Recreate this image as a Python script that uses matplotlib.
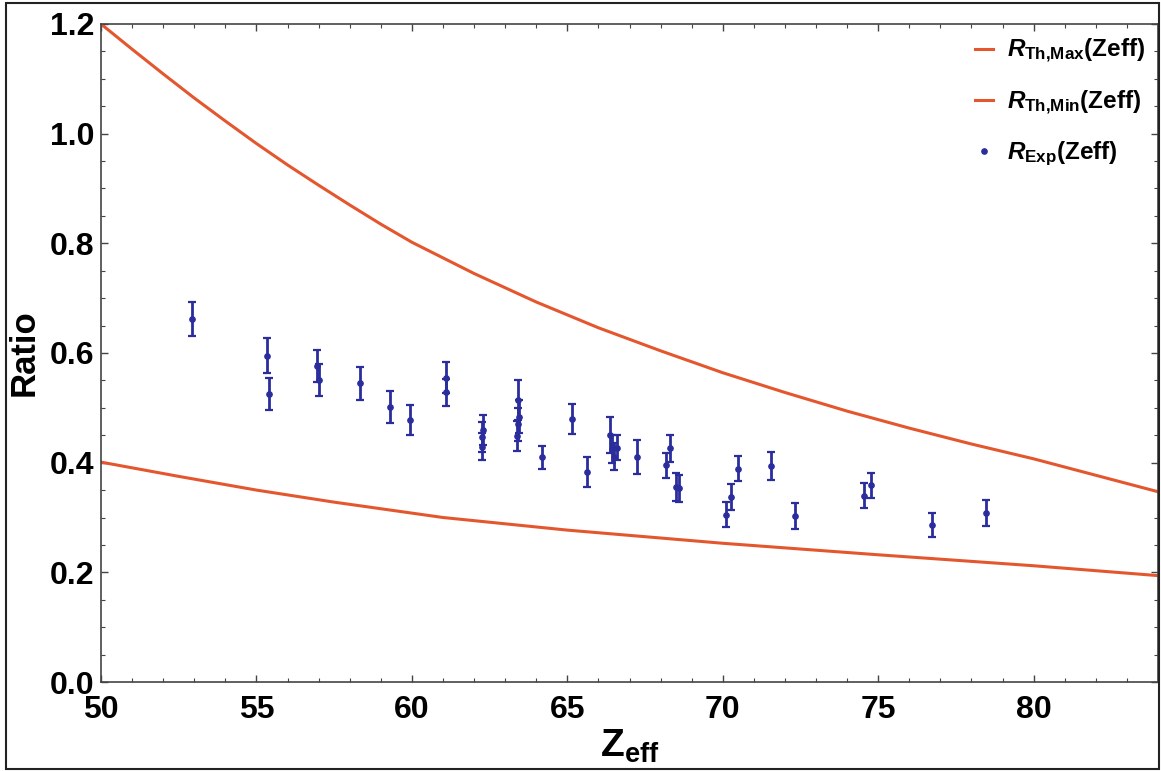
import matplotlib
matplotlib.use("Agg")
import matplotlib.pyplot as plt
from matplotlib.ticker import MultipleLocator
from matplotlib.patches import Rectangle
from matplotlib.lines import Line2D

plt.rcParams['font.family'] = ['Liberation Sans', 'DejaVu Sans']
plt.rcParams['mathtext.fontset'] = 'custom'
plt.rcParams['mathtext.it'] = 'Liberation Sans:italic:bold'
plt.rcParams['mathtext.bf'] = 'Liberation Sans:bold'
plt.rcParams['mathtext.rm'] = 'Liberation Sans:bold'

# theoretical curves
z_max = [50, 51, 52, 53, 54, 55, 56, 57, 58, 59, 60,
         62, 64, 66, 68, 70, 72, 74, 76, 78, 80, 82, 84]
r_max = [1.200, 1.154, 1.109, 1.065, 1.023, 0.982, 0.943, 0.906, 0.870, 0.835, 0.802,
         0.745, 0.693, 0.646, 0.604, 0.564, 0.528, 0.494, 0.463, 0.434, 0.407, 0.377, 0.347]
z_min = [50, 52.5, 55, 57.5, 60, 61, 65, 70, 75, 80, 84]
r_min = [0.401, 0.375, 0.350, 0.328, 0.308, 0.300, 0.277, 0.253, 0.232, 0.212, 0.194]

# experimental ratios
z_exp = [52.94, 55.33, 55.42, 56.96, 57.01, 58.32, 59.31, 59.95, 61.10, 61.10,
         62.29, 62.24, 62.26, 63.41, 63.44, 63.40, 63.38, 64.19, 65.14, 65.63,
         66.38, 66.45, 66.50, 66.60, 67.24, 68.17, 68.31, 68.48, 68.59, 70.10,
         70.28, 70.48, 71.54, 72.32, 74.53, 74.76, 76.74, 78.48]
r_exp = [0.662, 0.595, 0.525, 0.576, 0.551, 0.545, 0.501, 0.478, 0.555, 0.528,
         0.460, 0.447, 0.429, 0.514, 0.484, 0.470, 0.449, 0.410, 0.480, 0.383,
         0.450, 0.425, 0.411, 0.427, 0.410, 0.395, 0.426, 0.356, 0.353, 0.305,
         0.337, 0.389, 0.394, 0.303, 0.340, 0.359, 0.286, 0.308]
r_err = [0.031, 0.032, 0.029, 0.029, 0.029, 0.030, 0.029, 0.027, 0.028, 0.025,
         0.027, 0.027, 0.025, 0.037, 0.030, 0.030, 0.027, 0.021, 0.027, 0.027,
         0.033, 0.025, 0.024, 0.023, 0.031, 0.023, 0.024, 0.026, 0.025, 0.023,
         0.024, 0.023, 0.025, 0.024, 0.023, 0.023, 0.022, 0.024]

fig = plt.figure(figsize=(11.61, 7.71), dpi=100)
ax = fig.add_axes([101 / 1161, 89 / 771, 1057 / 1161, 658 / 771])

orange = '#e4572e'
navy = '#2b2d9c'

l1, = ax.plot(z_max, r_max, color=orange, lw=2.2)
l2, = ax.plot(z_min, r_min, color=orange, lw=2.2)
ax.errorbar(z_exp, r_exp, yerr=r_err, fmt='o', color=navy, ms=3.8,
            elinewidth=2.0, capsize=3, capthick=1.6)
dot = Line2D([], [], ls='none', marker='o', ms=3.8, color=navy)

ax.set_xlim(50, 84)
ax.set_ylim(0, 1.2)
ax.xaxis.set_major_locator(MultipleLocator(5))
ax.xaxis.set_minor_locator(MultipleLocator(1))
ax.yaxis.set_major_locator(MultipleLocator(0.2))
ax.yaxis.set_minor_locator(MultipleLocator(0.05))
ax.yaxis.set_major_formatter(plt.FormatStrFormatter('%.1f'))
ax.tick_params(which='both', direction='in', top=True, right=True, color='#444444')
ax.tick_params(which='major', length=5, width=1)
ax.tick_params(which='minor', length=3, width=0.8)
ax.tick_params(axis='x', which='major', labelsize=23, pad=9)
ax.tick_params(axis='y', which='major', labelsize=23, pad=5)
for lab in ax.get_xticklabels() + ax.get_yticklabels():
    lab.set_fontweight('bold')
for s in ax.spines.values():
    s.set_color('#444444')
    s.set_linewidth(1.2)

ax.set_ylabel('Ratio', fontsize=25, fontweight='bold', labelpad=6)
ax.set_xlabel(r'$\mathbf{Z}_{\mathbf{eff}}$', fontsize=28, labelpad=2)

leg = ax.legend([l1, l2, dot],
                [r'$R_{\mathbf{Th{,}Max}}$(Zeff)', r'$R_{\mathbf{Th{,}Min}}$(Zeff)',
                 r'$R_{\mathbf{Exp}}$(Zeff)'],
                loc='upper right', frameon=False, fontsize=17.5, handlelength=0.75,
                labelspacing=0.95, handletextpad=0.55, borderaxespad=0.15)
for t in leg.get_texts():
    t.set_fontweight('bold')

fig.patches.append(Rectangle((6 / 1161, 2 / 771), 1153 / 1161, 766 / 771,
                             transform=fig.transFigure, fill=False,
                             edgecolor='#222222', lw=1.5))

fig.savefig('out.png', dpi=100)
